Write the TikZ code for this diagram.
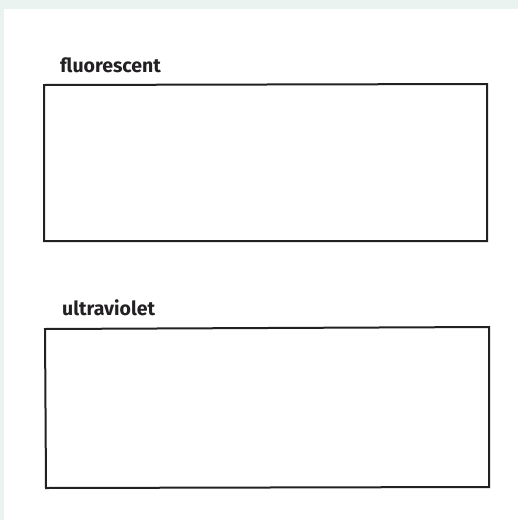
\documentclass[tikz,border=0pt]{standalone}
\usepackage{fontspec}
\setmainfont{Fira Sans}
\definecolor{pagetint}{RGB}{234,243,240}
\definecolor{ink}{RGB}{34,32,34}

\begin{document}
\begin{tikzpicture}[x=1pt,y=-1pt,
                    every node/.style={font=\bfseries\fontsize{19.5}{22}\selectfont,text=ink,inner sep=0pt},
                    box/.style={draw=ink,line width=2pt,line join=miter}]
  % page
  \fill[pagetint] (0,0) rectangle (518,520);
  \fill[white] (4,9) rectangle (518,520);
  \useasboundingbox (0,0) rectangle (518,520);

  % fluorescent panel
  \coordinate (fl_nw) at (44,85);
  \coordinate (fl_ne) at (487,84);
  \coordinate (fl_se) at (487,241);
  \coordinate (fl_sw) at (44,241);
  \draw[box] (fl_nw) -- (fl_ne) -- (fl_se) -- (fl_sw) -- cycle;
  \node[anchor=base west] (fl_label) at (60,72) {fluorescent};

  % ultraviolet panel
  \coordinate (uv_nw) at (45,329);
  \coordinate (uv_ne) at (489,327);
  \coordinate (uv_se) at (489,487);
  \coordinate (uv_sw) at (46,488);
  \draw[box] (uv_nw) -- (uv_ne) -- (uv_se) -- (uv_sw) -- cycle;
  \node[anchor=base west] (uv_label) at (62,315) {ultraviolet};
\end{tikzpicture}
\end{document}
